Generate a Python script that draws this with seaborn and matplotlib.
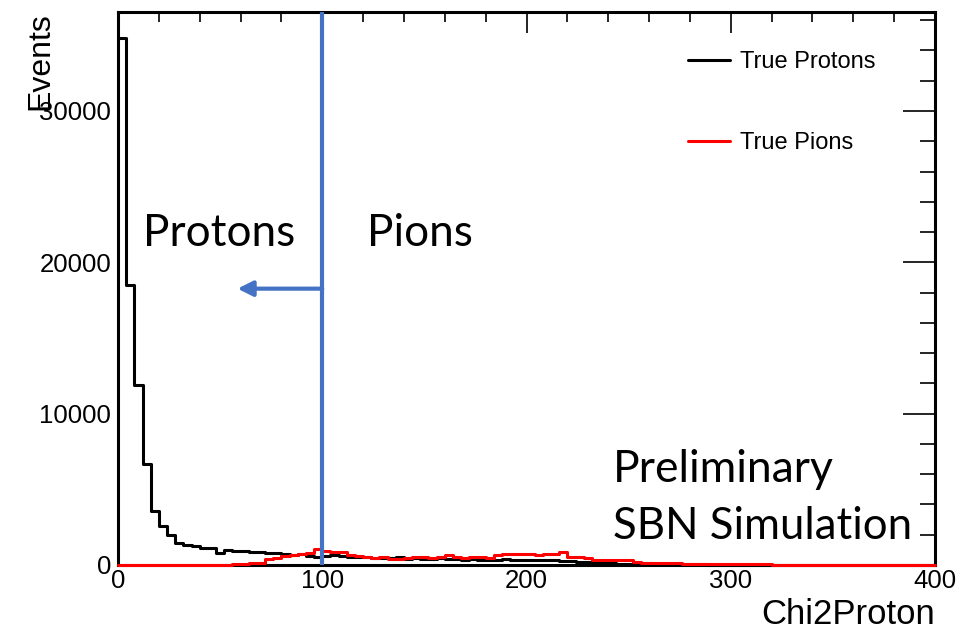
import numpy as np
import pandas as pd
import matplotlib
matplotlib.use("Agg")
import matplotlib.pyplot as plt
import seaborn as sns
from matplotlib.ticker import MultipleLocator
from matplotlib.lines import Line2D

# ---- data (100 bins of width 4 over 0..400) ----
bin_width = 4
x_range = (0, 400)
true_protons = [
    34800, 18500, 11900, 6650, 3550, 2550, 1950, 1450, 1350, 1250,
    1150, 1100, 800, 1000, 900, 900, 850, 850, 800, 800,
    750, 650, 700, 600, 550, 600, 650, 600, 550, 500,
    500, 450, 450, 450, 500, 400, 450, 400, 400, 450,
    400, 400, 350, 400, 350, 350, 350, 400, 350, 350,
    300, 350, 300, 300, 250, 250, 200, 200, 150, 150,
    100, 90, 80, 70, 60, 60, 50, 50, 40, 40,
    35, 35, 30, 30, 25, 25, 20, 20, 20, 15,
    15, 15, 12, 12, 10, 10, 10, 8, 8, 8,
    6, 6, 5, 5, 5, 4, 4, 3, 3, 3,
]
true_pions = [
    0, 0, 0, 0, 0, 0, 0, 0, 0, 0,
    5, 5, 10, 20, 50, 60, 150, 160, 420, 450,
    620, 650, 750, 780, 1050, 900, 880, 880, 650, 620,
    500, 480, 500, 400, 420, 480, 500, 520, 480, 500,
    650, 500, 480, 520, 500, 480, 650, 700, 700, 720,
    700, 680, 700, 700, 850, 500, 500, 480, 330, 330,
    330, 320, 300, 180, 150, 140, 120, 110, 100, 90,
    80, 80, 70, 60, 60, 50, 50, 40, 40, 35,
    30, 30, 25, 25, 20, 20, 20, 15, 15, 15,
    10, 10, 10, 10, 8, 8, 6, 6, 5, 5,
]
legend_labels = ["True Protons", "True Pions"]
cut_value = 100
x_ticks = [0, 100, 200, 300, 400]
y_ticks = [0, 10000, 20000, 30000]

centers = np.arange(x_range[0], x_range[1], bin_width) + bin_width / 2
df = pd.DataFrame({
    "x": np.concatenate([centers, centers]),
    "w": np.concatenate([true_protons, true_pions]).astype(float),
    "species": [legend_labels[0]] * len(centers) + [legend_labels[1]] * len(centers),
})

sns.set_style("white")
plt.rcParams["font.family"] = ["Liberation Sans", "DejaVu Sans"]
plt.rcParams["text.color"] = "black"
plt.rcParams["axes.labelcolor"] = "black"
plt.rcParams["xtick.color"] = "black"
plt.rcParams["ytick.color"] = "black"

fig = plt.figure(figsize=(9.68, 6.30), dpi=100)
ax = fig.add_axes([118 / 968, 1 - 565 / 630, (935 - 118) / 968, (565 - 12) / 630])

colors = {legend_labels[0]: "black", legend_labels[1]: "#ff0000"}
for i, sp in enumerate(legend_labels):
    sub = df[df["species"] == sp]
    sns.histplot(data=sub, x="x", weights="w", binwidth=bin_width, binrange=x_range,
                 element="step", fill=False, color=colors[sp], linewidth=2.2, ax=ax,
                 zorder=3 + i, clip_on=False)

ax.set_xlim(0, 400)
ax.set_ylim(0, 36540)
ax.set_xticks(x_ticks)
ax.set_yticks(y_ticks)
ax.xaxis.set_minor_locator(MultipleLocator(20))
ax.yaxis.set_minor_locator(MultipleLocator(2000))
ax.tick_params(which="both", direction="in", top=True, right=True, width=1.2, color="black",
               labelcolor="black")
ax.tick_params(which="major", labelsize=18.5)
ax.tick_params(axis="x", which="major", length=15, pad=3)
ax.tick_params(axis="x", which="minor", length=7)
ax.tick_params(axis="y", which="major", length=23, pad=5)
ax.tick_params(axis="y", which="minor", length=11)
for s in ax.spines.values():
    s.set_linewidth(2.2)
    s.set_color("black")
    s.set_zorder(2.5)

ax.set_xlabel("Chi2Proton", fontsize=25, loc="right")
ax.set_ylabel("Events", fontsize=23, loc="top")
ax.xaxis.set_label_coords(1.0, -0.06)
ax.yaxis.set_label_coords(-0.077, 1.0)

# cut line and arrow
blue = "#4472C4"
ax.axvline(cut_value, color=blue, linewidth=3, zorder=5)
ax.annotate("", xy=(58.5, 18260), xytext=(cut_value, 18260),
            arrowprops=dict(arrowstyle="-|>,head_length=0.9,head_width=0.45",
                            color=blue, lw=3, shrinkA=0, shrinkB=0))

calib = ["Lato", "DejaVu Sans"]
ax.text(12, 21900, "Protons", fontsize=31.8, family=calib, va="center", ha="left")
ax.text(122, 21900, "Pions", fontsize=31.8, family=calib, va="center", ha="left")
ax.text(242.5, 6300, "Preliminary", fontsize=32, family=calib, va="center", ha="left")
ax.text(242.5, 2550, "SBN Simulation", fontsize=31.5, family=calib, va="center", ha="left")

handles = [Line2D([], [], color="black", lw=2.2), Line2D([], [], color="#ff0000", lw=2.2)]
leg = ax.legend(handles, legend_labels, loc="upper left", bbox_to_anchor=(0.698, 0.929),
                frameon=False, fontsize=17, labelspacing=2.5, handlelength=1.78,
                handletextpad=0.42, borderpad=0, borderaxespad=0)

fig.savefig("out.png", dpi=100)
